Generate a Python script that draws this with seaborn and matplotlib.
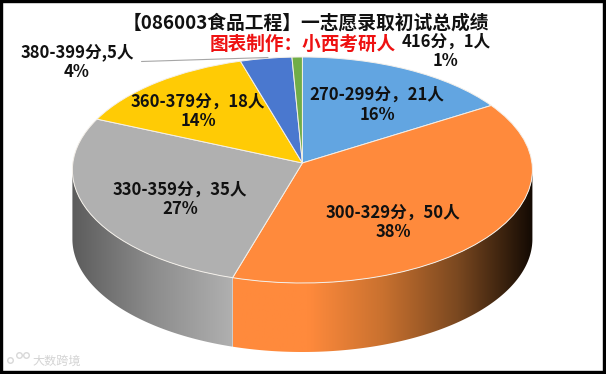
import matplotlib
matplotlib.use('Agg')
import matplotlib.pyplot as plt
from matplotlib.patches import Polygon, Rectangle
from matplotlib.transforms import Transform
import numpy as np
import seaborn as sns

title = "【086003食品工程】一志愿录取初试总成绩"
subtitle = "图表制作：小西考研人"
watermark = "大数跨境"
score_bands = ["270-299分，", "300-329分，", "330-359分，", "360-379分，", "380-399分,", "416分，"]
counts = [21, 50, 35, 18, 5, 1]
percents = ["16%", "38%", "27%", "14%", "4%", "1%"]
colors = ["#62a5e1", "#ff8a3c", "#b0b0b0", "#ffcb05", "#4a78cf", "#70ad47"]

W, H = 606, 374
CX, CY, RX, RY = 302.4, 170, 230, 113
DEPTH = 69 / RY
TILT = 0.062  # moves the pie apex up, the back of the disc looks shorter
label_pos = [(377, 95), (393, 212.5), (180, 190), (198, 101.5), (77, 52), (446, 42)]
label_gap = [20, 19.5, 19.5, 19.5, 20, 19]
# wall shading for the two slices that face the viewer
wall_shades = {
    1: ["#ff8a3c", "#ff8a3c", "#c9712f", "#7a4820", "#130a03"],
    2: ["#5c5c5c", "#8c8c8c", "#b0b0b0"],
}


class Tilt(Transform):
    input_dims = output_dims = 2

    def transform_non_affine(self, values):
        xy = np.asarray(values, dtype=float)
        d = 1 + TILT * xy[:, 1]
        return np.column_stack([xy[:, 0] * np.sqrt(1 - TILT ** 2) / d, (xy[:, 1] + TILT) / d])


sns.set_theme(style="white")
plt.rcParams['font.family'] = ['Noto Sans CJK SC', 'DejaVu Sans']

fig = plt.figure(figsize=(W / 100, H / 100), dpi=100)
ax = fig.add_axes([0, 0, 1, 1])

wedges, _ = ax.pie(counts, colors=colors, startangle=90, counterclock=False,
                   wedgeprops={'edgecolor': '#f4f0ea', 'linewidth': 0.7, 'zorder': 3})
tilt = Tilt()
for w in wedges:
    w.set_transform(tilt + ax.transData)

# front wall of the pie
for i, w in enumerate(wedges):
    if i not in wall_shades:
        continue
    t = np.radians(np.linspace(w.theta1, w.theta2, 300))
    top = tilt.transform(np.column_stack([np.cos(t), np.sin(t)]))
    top = top[top[:, 1] <= 0]
    bottom = (top - [0, DEPTH])[::-1]
    poly = Polygon(np.vstack([top, bottom]), transform=ax.transData, fc='none', ec='none')
    ax.add_patch(poly)
    cmap = sns.blend_palette(wall_shades[i], as_cmap=True)
    im = ax.imshow(np.linspace(0, 1, 256).reshape(1, -1), cmap=cmap, aspect='auto', zorder=2,
                   extent=[top[:, 0].min(), top[:, 0].max(), -1 - DEPTH, 1])
    im.set_clip_path(poly)

ax.set_aspect('auto')
ax.set_xlim(-CX / RX, (W - CX) / RX)
ax.set_ylim((CY - H) / RY, CY / RY)

# leader line for the 380-399 label
fig.add_artist(plt.Line2D([141.5 / W, 268 / W], [1 - 61.5 / H, 1 - 57.5 / H], color='#a6a6a6', lw=0.8))

fig.text(305.5 / W, 1 - 23 / H, title, ha='center', va='center', fontsize=13.5, fontweight='bold', color='#111111')
fig.text(302.5 / W, 1 - 44.5 / H, subtitle, ha='center', va='center', fontsize=13.4, fontweight='bold', color='#ee1111')
for band, n, pct, (x, y), gap in zip(score_bands, counts, percents, label_pos, label_gap):
    fig.text(x / W, 1 - y / H, f"{band}{n}人", ha='center', va='center', fontsize=12, fontweight='bold', color='#111111')
    fig.text(x / W, 1 - (y + gap) / H, pct, ha='center', va='center', fontsize=12, fontweight='bold', color='#111111')

# faint logo and watermark, bottom left
fig.add_artist(plt.Line2D([10 / W, 19 / W, 26 / W], [1 - 360 / H, 1 - 355 / H, 1 - 355 / H], ls='none', marker='o',
                          mfc='none', mec='#d8d8d8', mew=1, ms=4))
fig.text(32 / W, 1 - 361 / H, watermark, ha='left', va='center', fontsize=8.7, color='#d4d4d4')
fig.add_artist(Rectangle((0, 0), 1, 1, transform=fig.transFigure, fill=False, ec='black', lw=4.6))

fig.savefig('out.png', dpi=100)
